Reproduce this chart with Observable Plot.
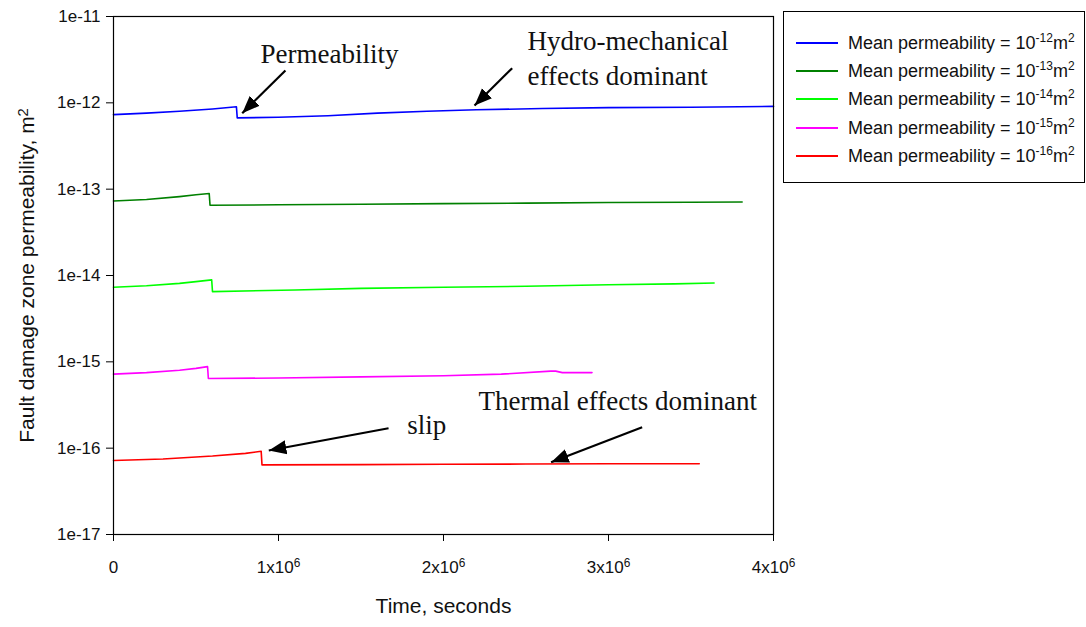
<!DOCTYPE html>
<html>
<head>
<meta charset="utf-8">
<script src="https://cdn.jsdelivr.net/npm/d3@7"></script>
<script src="https://cdn.jsdelivr.net/npm/@observablehq/plot@0.6"></script>
<style>
  body { margin: 0; background: #fff; }
  #wrap { position: relative; width: 1086px; height: 627px; font-family: Arial, "Liberation Sans", sans-serif; }
  #legend { position: absolute; left: 783px; top: 11px; width: 302px; height: 172px; border: 1px solid #000; box-sizing: border-box; background: #fff; }
  .item { position: absolute; left: 12px; height: 22px; line-height: 22px; font-size: 18px; white-space: nowrap; color: #111; }
  .sw { position: absolute; left: 0; top: 10px; width: 42px; height: 2px; }
  .lbl { position: absolute; left: 52px; top: 0; }
  .item sup { font-size: 12px; vertical-align: 7px; line-height: 0; }
</style>
</head>
<body>
<div id="wrap"><div id="legend"></div></div>
<script>
// ---- data (times in seconds, permeability in m^2) ----
const seriesExponents = ["-12", "-13", "-14", "-15", "-16"];
const seriesColors = ["#0000ff", "#008000", "#00ff00", "#ff00ff", "#ff0000"];

const time12 = [0, 0.2e6, 0.4e6, 0.6e6, 0.745e6, 0.75e6, 1.0e6, 1.3e6, 1.6e6, 1.9e6, 2.2e6, 2.6e6, 3.0e6, 3.5e6, 4.0e6];
const perm12 = [7.3e-13, 7.6e-13, 8.0e-13, 8.5e-13, 9.0e-13, 6.7e-13, 6.8e-13, 7.1e-13, 7.6e-13, 8.0e-13, 8.3e-13, 8.6e-13, 8.8e-13, 8.9e-13, 9.1e-13];

const time13 = [0, 0.2e6, 0.4e6, 0.5e6, 0.58e6, 0.585e6, 1.0e6, 1.5e6, 2.0e6, 2.5e6, 3.0e6, 3.5e6, 3.81e6];
const perm13 = [7.3e-14, 7.6e-14, 8.2e-14, 8.6e-14, 8.9e-14, 6.5e-14, 6.6e-14, 6.7e-14, 6.8e-14, 6.9e-14, 7.0e-14, 7.05e-14, 7.1e-14];

const time14 = [0, 0.2e6, 0.4e6, 0.5e6, 0.595e6, 0.6e6, 1.1e6, 1.5e6, 2.0e6, 2.5e6, 3.0e6, 3.4e6, 3.64e6];
const perm14 = [7.3e-15, 7.6e-15, 8.1e-15, 8.5e-15, 8.9e-15, 6.5e-15, 6.8e-15, 7.1e-15, 7.3e-15, 7.5e-15, 7.8e-15, 8.0e-15, 8.2e-15];

const time15 = [0, 0.2e6, 0.4e6, 0.5e6, 0.57e6, 0.575e6, 1.0e6, 1.5e6, 2.0e6, 2.35e6, 2.65e6, 2.68e6, 2.72e6, 2.9e6];
const perm15 = [7.2e-16, 7.5e-16, 8.0e-16, 8.4e-16, 8.8e-16, 6.4e-16, 6.5e-16, 6.7e-16, 6.9e-16, 7.2e-16, 7.8e-16, 7.8e-16, 7.5e-16, 7.5e-16];

const time16 = [0, 0.3e6, 0.6e6, 0.8e6, 0.895e6, 0.9e6, 1.5e6, 2.0e6, 2.5e6, 3.0e6, 3.55e6];
const perm16 = [7.2e-17, 7.5e-17, 8.1e-17, 8.7e-17, 9.2e-17, 6.4e-17, 6.45e-17, 6.5e-17, 6.55e-17, 6.6e-17, 6.6e-17];

const xTicks = [0, 1e6, 2e6, 3e6, 4e6];
const xTickLabels = ["0", "1x10\u2076", "2x10\u2076", "3x10\u2076", "4x10\u2076"];
const yTicks = [1e-17, 1e-16, 1e-15, 1e-14, 1e-13, 1e-12, 1e-11];
const yTickLabels = ["1e-17", "1e-16", "1e-15", "1e-14", "1e-13", "1e-12", "1e-11"];

const xTitle = "Time, seconds";
const yTitle = "Fault damage zone permeability, m\u00b2";

// annotations
const noteTexts = ["Permeability", "Hydro-mechanical\neffects dominant", "slip", "Thermal effects dominant"];
const noteTime = [0.891e6, 2.509e6, 1.78e6, 2.212e6];
const notePerm = [3.93e-12, 3.44e-12, 1.98e-16, 3.69e-16];
const arrowFromTime = [1.042e6, 2.416e6, 1.667e6, 3.204e6];
const arrowFromPerm = [2.37e-12, 2.52e-12, 1.70e-16, 1.75e-16];
const arrowToTime = [0.78e6, 2.188e6, 0.941e6, 2.652e6];
const arrowToPerm = [7.59e-13, 9.3e-13, 9.4e-17, 6.87e-17];

// ---- build tables ----
const seriesTimes = [time12, time13, time14, time15, time16];
const seriesPerms = [perm12, perm13, perm14, perm15, perm16];
const seriesData = seriesTimes.map((ts, s) => ts.map((t, i) => ({t, k: seriesPerms[s][i]})));
const notes = noteTexts.map((text, i) => ({text, t: noteTime[i], k: notePerm[i]}));
const arrows = arrowFromTime.map((t1, i) => ({t1, k1: arrowFromPerm[i], t2: arrowToTime[i], k2: arrowToPerm[i]}));

const plot = Plot.plot({
  width: 1086,
  height: 627,
  marginLeft: 113,
  marginRight: 313,
  marginTop: 16,
  marginBottom: 93,
  style: {fontFamily: "Arial, 'Liberation Sans', sans-serif", fontSize: "17px", color: "#111", background: "transparent"},
  x: {domain: [0, 4e6]},
  y: {type: "log", domain: [1e-17, 1e-11]},
  marks: [
    ...seriesData.map((d, s) => Plot.line(d, {x: "t", y: "k", stroke: seriesColors[s], strokeWidth: 1.6})),
    Plot.frame({stroke: "#000", strokeWidth: 1.2}),
    Plot.axisX({ticks: xTicks, tickFormat: d => xTickLabels[xTicks.indexOf(d)], tickSize: 7, tickPadding: 19, label: null, stroke: "#000"}),
    Plot.axisY({ticks: yTicks, tickFormat: d => yTickLabels[yTicks.indexOf(d)], tickSize: 7, tickPadding: 6, label: null, stroke: "#000"}),
    Plot.link(arrows, {x1: "t1", y1: "k1", x2: "t2", y2: "k2", stroke: "#000", strokeWidth: 2.2, markerEnd: "arrow"}),
    Plot.text(notes, {x: "t", y: "k", text: "text", textAnchor: "start", lineAnchor: "middle", lineHeight: 1.3,
      fontFamily: "'Liberation Serif', 'Times New Roman', serif", fontSize: 27, fill: "#111"}),
    Plot.text([xTitle], {frameAnchor: "bottom", text: d => d, dy: 78, fontSize: 21, fill: "#111"}),
    Plot.text([yTitle], {frameAnchor: "left", text: d => d, dx: -86, rotate: -90, textAnchor: "middle", fontSize: 21, fill: "#111"})
  ]
});

// filled triangular arrow heads
d3.select(plot).selectAll("marker")
  .attr("viewBox", "-10 -5 10 10")
  .attr("markerWidth", 8)
  .attr("markerHeight", 8)
  .attr("fill", "#000")
  .attr("stroke", "none")
  .selectAll("path").attr("d", "M0,0L-10,-4L-10,4Z");

// render superscript characters as raised tspans
d3.select(plot).selectAll("text").each(function() {
  const el = d3.select(this);
  if (el.selectAll("tspan").size() > 0) return;
  const s = el.text();
  const m = s.match(/^(.*?)([\u2076\u00b2])$/);
  if (!m) return;
  const sup = m[2] === "\u2076" ? "6" : "2";
  el.text(m[1]);
  el.append("tspan").attr("dy", "-0.45em").attr("font-size", "0.7em").text(sup);
});

document.getElementById("wrap").prepend(plot);

// legend
const legend = d3.select("#legend");
const rowTops = [31, 59, 87, 116, 144];
seriesExponents.forEach((e, i) => {
  const item = legend.append("div").attr("class", "item").style("top", (rowTops[i] - 11) + "px");
  item.append("div").attr("class", "sw").style("background", seriesColors[i]).style("top", "10px").style("height", "1.6px");
  item.append("span").attr("class", "lbl").html(`Mean permeability = 10<sup>${e}</sup>m<sup>2</sup>`);
});
</script>
</body>
</html>
